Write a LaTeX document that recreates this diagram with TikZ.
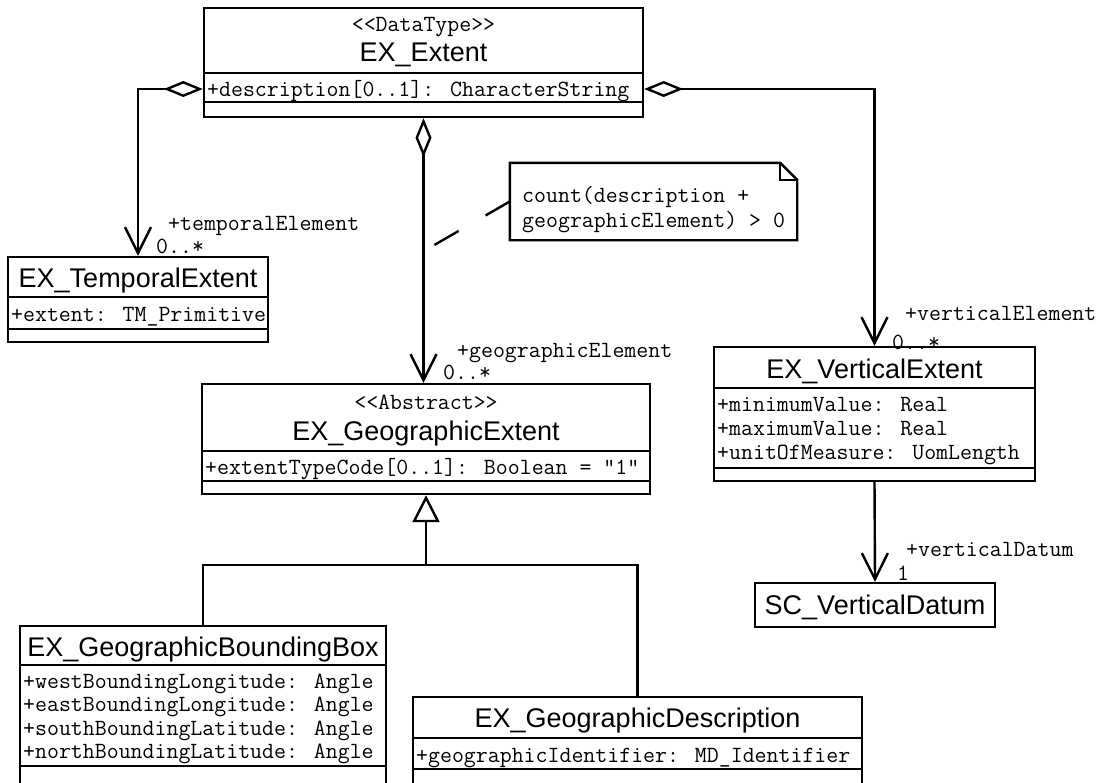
\documentclass[tikz,border=0pt]{standalone}
\usepackage{fontspec}
\setmainfont{Liberation Sans}
\usetikzlibrary{arrows.meta}

\begin{document}
\begin{tikzpicture}[x=1pt, y=-1pt]
    % Define styles
    \tikzset{
        classbox/.style={draw, line width=2.4pt, inner sep=0pt},
        divider/.style={line width=2.4pt},
        classname/.style={font=\fontsize{27}{30}\selectfont, inner sep=0pt, text height=19.5pt, text depth=0pt},
        mono/.style={font=\ttfamily\fontsize{23.2}{25}\selectfont, inner sep=0pt, text height=14pt, text depth=0pt},
        attr/.style={mono, anchor=west},
        aggregation/.style={line width=2.4pt, {Diamond[open, length=39pt, width=16pt]}-{Straight Barb[length=26pt, width=26pt]}},
        association/.style={line width=2.4pt, -{Straight Barb[length=26pt, width=26pt]}},
        generalization/.style={line width=2.4pt, -{Triangle[open, length=27pt, width=27pt]}},
        notebox/.style={line width=2.4pt},
        noteline/.style={line width=2.4pt, dash pattern=on 28pt off 31pt}
    }

    % Page frame
    \useasboundingbox (0,0) rectangle (1099,782);
    \fill[white] (0,0) rectangle (1099,782);

    % EX_Extent
    \node[classbox, minimum width=439pt, minimum height=109pt] (ext) at (423.5,62.5) {};
    \node[mono] (extst) at (423.5,24) {<<DataType>>};
    \node[classname] (extname) at (423.5,52) {EX\_Extent};
    \node[attr] (extdesc) at (207,89) {+description[0..1]: CharacterString};
    \draw[divider] ([yshift=-66pt]ext.north west) -- ([yshift=-66pt]ext.north east);
    \draw[divider] ([yshift=-95pt]ext.north west) -- ([yshift=-95pt]ext.north east);

    % EX_TemporalExtent
    \node[classbox, minimum width=260pt, minimum height=85pt] (temp) at (138,299.5) {};
    \node[classname] (tempname) at (138,278) {EX\_TemporalExtent};
    \node[attr] (tempattr) at (11,314) {+extent: TM\_Primitive};
    \draw[divider] ([yshift=-41pt]temp.north west) -- ([yshift=-41pt]temp.north east);
    \draw[divider] ([yshift=-73pt]temp.north west) -- ([yshift=-73pt]temp.north east);

    % EX_GeographicExtent
    \node[classbox, minimum width=448pt, minimum height=110pt] (geo) at (426,439) {};
    \node[mono] (geost) at (426,402) {<<Abstract>>};
    \node[classname] (geoname) at (426,431) {EX\_GeographicExtent};
    \node[attr] (geoattr) at (205,467) {+extentTypeCode[0..1]: Boolean = "1"};
    \draw[divider] ([yshift=-68pt]geo.north west) -- ([yshift=-68pt]geo.north east);
    \draw[divider] ([yshift=-98pt]geo.north west) -- ([yshift=-98pt]geo.north east);

    % EX_VerticalExtent
    \node[classbox, minimum width=321pt, minimum height=134pt] (vert) at (874.5,414) {};
    \node[classname] (vertname) at (874.5,369) {EX\_VerticalExtent};
    \node[attr] (vertmin) at (717,404) {+minimumValue: Real};
    \node[attr] (vertmax) at (717,428) {+maximumValue: Real};
    \node[attr] (vertuom) at (717,452) {+unitOfMeasure: UomLength};
    \draw[divider] ([yshift=-42pt]vert.north west) -- ([yshift=-42pt]vert.north east);
    \draw[divider] ([yshift=-122pt]vert.north west) -- ([yshift=-122pt]vert.north east);

    % SC_VerticalDatum
    \node[classbox, classname, minimum width=240pt, minimum height=44pt] (datum) at (875,605) {SC\_VerticalDatum};

    % EX_GeographicBoundingBox
    \node[classbox, minimum width=366pt, minimum height=164pt] (bbox) at (203,708) {};
    \node[classname] (bboxname) at (203,647) {EX\_GeographicBoundingBox};
    \node[attr] (bboxwest) at (23,681) {+westBoundingLongitude: Angle};
    \node[attr] (bboxeast) at (23,704.5) {+eastBoundingLongitude: Angle};
    \node[attr] (bboxsouth) at (23,728) {+southBoundingLatitude: Angle};
    \node[attr] (bboxnorth) at (23,751.5) {+northBoundingLatitude: Angle};
    \draw[divider] ([yshift=-40pt]bbox.north west) -- ([yshift=-40pt]bbox.north east);
    \draw[divider] ([yshift=-141pt]bbox.north west) -- ([yshift=-141pt]bbox.north east);

    % EX_GeographicDescription
    \node[classbox, minimum width=449pt, minimum height=93pt] (desc) at (637.5,743.5) {};
    \node[classname] (descname) at (637.5,718) {EX\_GeographicDescription};
    \node[attr] (descattr) at (416,755) {+geographicIdentifier: MD\_Identifier};
    \draw[divider] ([yshift=-42pt]desc.north west) -- ([yshift=-42pt]desc.north east);
    \draw[divider] ([yshift=-73pt]desc.north west) -- ([yshift=-73pt]desc.north east);

    % Note
    \node[minimum width=287pt, minimum height=77pt, inner sep=0pt] (note) at (653.5,201.5) {};
    \draw[notebox] (note.south west) -- (note.north west) -- ([xshift=-17pt]note.north east)
        -- ([yshift=-17pt]note.north east) -- (note.south east) -- cycle;
    \draw[notebox] ([xshift=-17pt]note.north east) |- ([yshift=-17pt]note.north east);
    \node[attr] (notea) at (522,195) {count(description +};
    \node[attr] (noteb) at (522,220) {geographicElement) > 0};

    % Aggregations
    \draw[aggregation] (ext.west |- extdesc) -| (temp.north);
    \draw[aggregation] (ext.east |- extdesc) -| (vert.north);
    \draw[aggregation] (ext.south) -- (ext.south |- geo.north);
    \draw[association] (vert.south) -- (datum.north);

    % Note link
    \coordinate (pin) at ([yshift=-133pt]ext.south);
    \draw[noteline] (note.west) -- (pin);

    % Generalization
    \coordinate (split) at ([yshift=-70pt]geo.south);
    \draw[generalization] (split) -- (geo.south);
    \draw[divider] (bbox.north) |- (split) -| (desc.north);

    % Role names and multiplicities
    \node[attr] (temprole) at (168,223) {+temporalElement};
    \node[attr] (tempmult) at (156,246) {0..*};
    \node[attr] (georole) at (457,350) {+geographicElement};
    \node[attr] (geomult) at (443,372) {0..*};
    \node[attr] (vertrole) at (905,313) {+verticalElement};
    \node[attr] (vertmult) at (892,342) {0..*};
    \node[attr] (datumrole) at (906,549) {+verticalDatum};
    \node[attr] (datummult) at (897,573) {1};
\end{tikzpicture}
\end{document}
